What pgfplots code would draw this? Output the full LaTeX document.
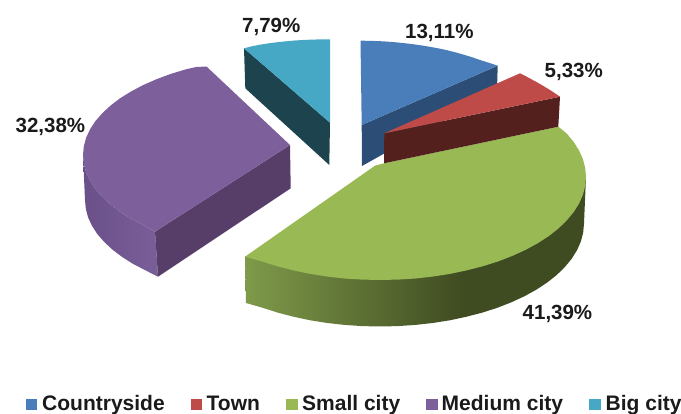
\documentclass[border=0pt]{standalone}
\usepackage{fontspec}
\setmainfont{Liberation Sans}
\usepackage{pgfplots}
\pgfplotsset{compat=1.18}

\definecolor{blueTop}{HTML}{4A7EBB}
\definecolor{blueSide}{HTML}{2C4D75}
\definecolor{redTop}{HTML}{BE4B48}
\definecolor{redSide}{HTML}{54201E}
\definecolor{greenTop}{HTML}{98B954}
\definecolor{greenRimLight}{HTML}{7F9A4A}
\definecolor{greenRimDark}{HTML}{3F4B21}
\definecolor{purpleTop}{HTML}{7D5F9C}
\definecolor{purpleSide}{HTML}{563E69}
\definecolor{purpleRimLeft}{HTML}{6A5088}
\definecolor{purpleRimRight}{HTML}{7A5E99}
\definecolor{cyanTop}{HTML}{46A8C4}
\definecolor{cyanSide}{HTML}{1D444E}
\definecolor{labelText}{HTML}{1A1A1A}

% Shadings span 25bp--75bp across the bounding box of the filled path
\pgfdeclarehorizontalshading{greenRim}{100bp}{
  color(0bp)=(greenRimLight); color(25bp)=(greenRimLight);
  color(57bp)=(greenRimDark); color(75bp)=(greenRimDark); color(100bp)=(greenRimDark)}
\pgfdeclarehorizontalshading{purpleRim}{100bp}{
  color(0bp)=(purpleRimLeft); color(25bp)=(purpleRimLeft);
  color(75bp)=(purpleRimRight); color(100bp)=(purpleRimRight)}

\newcommand{\pct}[1]{\fontsize{20.5}{24}\selectfont\bfseries #1}
\newcommand{\leg}[1]{\fontsize{21}{24}\selectfont\bfseries #1}
\tikzset{lab/.style={text=labelText, anchor=base west, inner sep=0pt}}

\begin{document}
\begin{tikzpicture}
\useasboundingbox (0,0) rectangle (681pt,414pt);
\begin{axis}[
  at={(0,0)}, anchor=south west,
  width=681pt, height=414pt, scale only axis,
  hide axis,
  xmin=0, xmax=681, ymin=0, ymax=414, y dir=reverse,
  clip=false,
]
% Big city
\addplot[draw=none, fill=cyanSide] coordinates {(244,48.3)(330,122.7)(329.3,165)(245.3,88.3)};
\addplot[draw=none, fill=cyanTop] coordinates {(244,48.3)(252,46.3)(260,44.7)(268,43.4)(276.7,42.3)(286,41.3)(295,40.5)(303,40)(312,39.6)(321,39.4)(330,39.3)(330,122.7)};

% Countryside
\addplot[draw=none, fill=blueSide] coordinates {(497.7,65.7)(497,90)(362,166)(361.7,125)};
\addplot[draw=none, fill=blueTop] coordinates {(360.5,40.7)(369,40.8)(378,41.1)(387,41.6)(395.8,42.3)(404.5,43.2)(413,44.2)(422,45.5)(430.5,46.9)(439,48.5)(447,50.2)(455,52.2)(463,54.5)(472,57.2)(480,60)(489,62.8)(497.7,65.7)(361.7,125)};

% Medium city
\addplot[draw=none, shading=purpleRim] coordinates {(83,155)(83.8,163.6)(86.1,172.2)(90,180.6)(95.4,188.9)(102.3,196.8)(110.6,204.5)(120.2,211.8)(131.2,218.7)(143.3,225)(155,231.7)(158,276.7)(144.8,270)(132.7,263.7)(121.9,256.8)(112.3,249.5)(104.1,241.8)(97.2,233.9)(91.9,225.6)(88,217.2)(85.8,208.6)(85,200)};
\addplot[draw=none, fill=purpleSide] coordinates {(290,145)(290.7,188.3)(158,276.7)(155,231.7)};
\addplot[draw=none, fill=purpleTop] coordinates {(206.7,66.7)(290,145)(155,231.7)(143.3,225)(131.2,218.7)(120.2,211.8)(110.6,204.5)(102.3,196.8)(95.4,188.9)(90,180.6)(86.1,172.2)(83.8,163.6)(83,155)(83.8,146.4)(86.1,137.8)(90,129.4)(95.4,121.1)(102.3,113.2)(110.6,105.5)(120.2,98.2)(131.2,91.4)(143.3,85)(156.6,79.2)(170.8,73.9)(186,69.3)(197,66.8)};

% Small city
\addplot[draw=none, shading=greenRim] coordinates {(586,177)(584,223.5)(583.2,232.5)(580.9,241.4)(577,250.2)(571.7,258.7)(564.9,267)(556.7,275)(547.1,282.6)(536.3,289.7)(524.3,296.3)(511.1,302.4)(497,307.9)(482,312.7)(466.2,316.8)(449.8,320.3)(432.8,323)(415.4,324.9)(397.8,326.1)(380,326.5)(362.2,326.1)(344.6,324.9)(327.2,323)(310.2,320.3)(293.8,316.8)(278,312.7)(263,307.9)(246,303)(245,256.7)};
\addplot[draw=none, fill=greenTop] coordinates {(558.3,126.7)(384,163.3)(375,165.7)(245,256.7)(261.8,261.4)(277,266.2)(292.9,270.3)(309.5,273.8)(326.7,276.5)(344.2,278.5)(362,279.6)(380,280)(398,279.6)(415.8,278.5)(433.3,276.5)(450.5,273.8)(467.1,270.3)(483,266.2)(498.2,261.4)(512.4,255.9)(525.7,249.8)(537.8,243.2)(548.8,236.1)(558.4,228.5)(566.7,220.5)(573.6,212.2)(579,203.7)(582.9,194.9)(585.2,186)(586,177)(585.2,168)(582.9,159.1)(579,150.4)(573.6,141.8)(566.7,133.5)};

% Town
\addplot[draw=none, fill=redSide] coordinates {(560,96.7)(558.3,126.7)(384,163.3)(384.3,133.3)};
\addplot[draw=none, fill=redTop] coordinates {(384.3,133.3)(520,73.3)(525,75.8)(530,78.5)(535,81.2)(540,84)(545,87)(550,90)(555,93.3)(560,96.7)};

% Value labels
\node[lab] at (axis cs:405,38.3) {\pct{13,11\%}};
\node[lab] at (axis cs:544.5,78) {\pct{5,33\%}};
\node[lab] at (axis cs:242,32.7) {\pct{7,79\%}};
\node[lab] at (axis cs:15.5,132.5) {\pct{32,38\%}};
\node[lab] at (axis cs:522.5,319.3) {\pct{41,39\%}};

% Legend keys
\addplot[only marks, mark=square*, mark size=5.2pt, blueTop] coordinates {(31,404)};
\addplot[only marks, mark=square*, mark size=5.2pt, redTop] coordinates {(196,404)};
\addplot[only marks, mark=square*, mark size=5.2pt, greenTop] coordinates {(291.5,404)};
\addplot[only marks, mark=square*, mark size=5.2pt, purpleTop] coordinates {(431.5,404)};
\addplot[only marks, mark=square*, mark size=5.2pt, cyanTop] coordinates {(594.5,404)};

\node[lab] at (axis cs:42,410.7) {\leg{Countryside}};
\node[lab] at (axis cs:206.5,410.7) {\leg{Town}};
\node[lab] at (axis cs:302,410.7) {\leg{Small city}};
\node[lab] at (axis cs:441.5,410.7) {\leg{Medium city}};
\node[lab] at (axis cs:605.5,410.7) {\leg{Big city}};
\end{axis}
\end{tikzpicture}
\end{document}
